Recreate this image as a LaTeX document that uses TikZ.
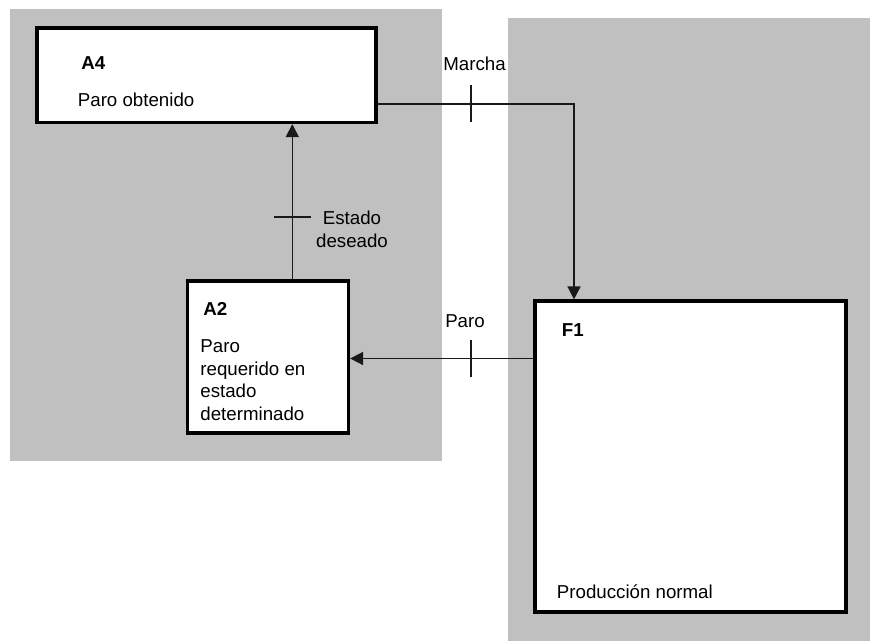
\documentclass[tikz,border=0pt]{standalone}
\usepackage{fontspec}
\setmainfont{Liberation Sans}
\usetikzlibrary{arrows.meta}
\definecolor{zone}{RGB}{192,192,192}
\definecolor{wire}{RGB}{25,25,25}
\tikzset{
  zonefill/.style={fill=zone, draw=none},
  block/.style={draw=black, fill=white, line width=1.6pt, rectangle, inner sep=0pt},
  conn/.style={draw=wire, line width=0.8pt, -{Triangle[length=6.5pt,width=6.5pt]}},
  tick/.style={draw=wire, line width=0.8pt},
  lbl/.style={inner sep=0pt, font=\fontsize{9.35}{11.25}\selectfont},
  title/.style={lbl, font=\fontsize{9.35}{11.25}\selectfont\bfseries},
}
\begin{document}
\begin{tikzpicture}[x=0.5pt, y=-0.5pt]
  \useasboundingbox (0,0) rectangle (870,641);
  \fill[white] (0,0) rectangle (870,641);

  % grey zones
  \path[zonefill] (10,9) rectangle (442,461);
  \path[zonefill] (508,18.5) rectangle (870,641);

  % blocks
  \node[block, minimum width=169.5pt, minimum height=47.25pt] (a4) at (206.5,75.25) {};
  \node[block, minimum width=80.5pt, minimum height=76pt] (a2) at (268,357) {};
  \node[block, minimum width=155.5pt, minimum height=155.5pt] (f1) at (690.5,456.5) {};

  % block texts (multi-line nodes are placed by the baseline of their last line)
  \node[title, anchor=base west] (a4t) at (81,70) {A4};
  \node[lbl, anchor=base west] (a4d) at (77.5,107) {Paro obtenido};
  \node[title, anchor=base west] (a2t) at (203,315) {A2};
  \node[lbl, anchor=base west, align=left] (a2d) at (200,420)
    {Paro\\requerido en\\estado\\determinado};
  \node[title, anchor=base west] (f1t) at (561.5,336) {F1};
  \node[lbl, anchor=base west] (f1d) at (556.5,598) {Producción normal};

  % routing coordinates
  \coordinate (sx) at (292.3,0);
  \coordinate (m) at (574,104);
  \coordinate (p) at (0,358.5);

  % connectors
  \draw[conn] (sx |- a2.north) -- (sx |- a4.south);
  \draw[conn] (a4.east |- m) -| (f1.north -| m);
  \draw[conn] (f1.west |- p) -- (a2.east |- p);

  % ticks on the connectors
  \coordinate (t1) at (470.7,104);
  \coordinate (t2) at (471,358.5);
  \coordinate (t3) at (292.3,217.3);
  \draw[tick] ([yshift=9.25pt]t1) -- ([yshift=-9.25pt]t1);
  \draw[tick] ([yshift=9.25pt]t2) -- ([yshift=-9.25pt]t2);
  \draw[tick] ([xshift=-9.25pt]t3) -- ([xshift=9.25pt]t3);

  % connector labels
  \node[lbl, anchor=base] (lm) at (474.5,70.7) {Marcha};
  \node[lbl, anchor=base] (lp) at (465,327.3) {Paro};
  \node[lbl, anchor=base, align=center] (le) at (352,247.3) {Estado\\deseado};
\end{tikzpicture}
\end{document}
